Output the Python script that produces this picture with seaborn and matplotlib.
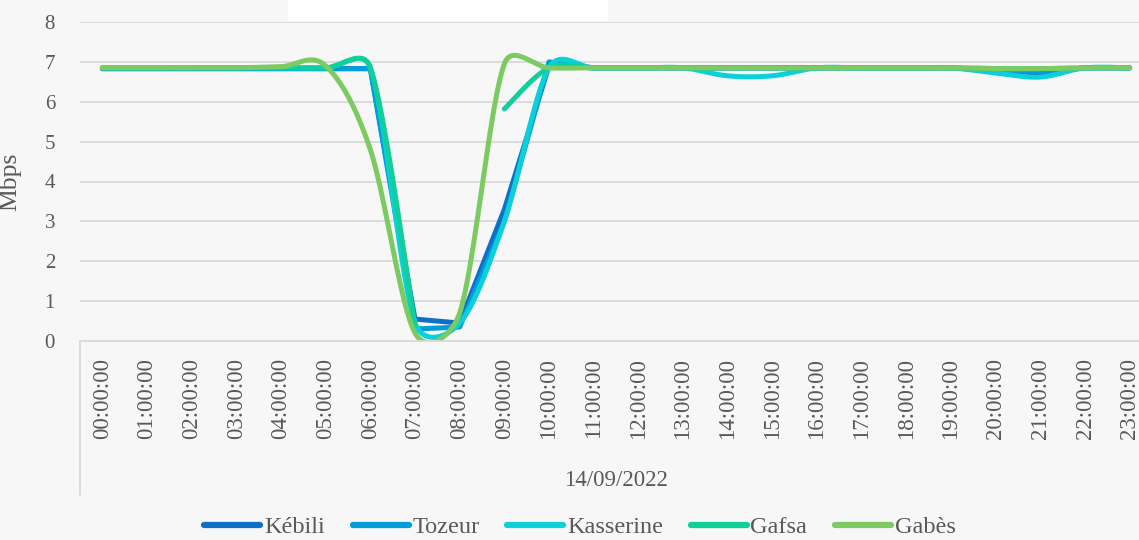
import numpy as np
import pandas as pd
import seaborn as sns
import matplotlib.pyplot as plt
from matplotlib.patches import Rectangle
from matplotlib.lines import Line2D

# --- data (hourly throughput, Mbps) ---
hours = ["00:00:00", "01:00:00", "02:00:00", "03:00:00", "04:00:00", "05:00:00",
         "06:00:00", "07:00:00", "08:00:00", "09:00:00", "10:00:00", "11:00:00",
         "12:00:00", "13:00:00", "14:00:00", "15:00:00", "16:00:00", "17:00:00",
         "18:00:00", "19:00:00", "20:00:00", "21:00:00", "22:00:00", "23:00:00"]
kebili = [6.83, 6.83, 6.83, 6.83, 6.83, 6.83, 6.83, 0.55, 0.45, 3.30, 6.90, 6.85,
          6.85, 6.85, 6.85, 6.85, 6.85, 6.85, 6.85, 6.85, 6.78, 6.72, 6.85, 6.85]
tozeur = [6.83, 6.83, 6.83, 6.83, 6.83, 6.83, 6.83, 0.30, 0.35, 3.00, 7.00, 6.85,
          6.85, 6.85, 6.85, 6.85, 6.85, 6.85, 6.85, 6.85, 6.80, 6.75, 6.85, 6.85]
kasserine = [6.85, 6.85, 6.85, 6.85, 6.85, 6.85, 6.85, 0.45, 0.45, 3.00, 6.85, 6.85,
             6.85, 6.85, 6.65, 6.65, 6.85, 6.85, 6.85, 6.85, 6.72, 6.62, 6.85, 6.85]
gafsa = [6.85, 6.85, 6.85, 6.85, 6.85, 6.85, 6.86, 0.40, np.nan, 5.82, 6.85, 6.85,
         6.85, 6.85, 6.85, 6.85, 6.85, 6.85, 6.85, 6.85, 6.83, 6.83, 6.85, 6.85]
gabes = [6.85, 6.85, 6.85, 6.85, 6.88, 6.90, 4.80, 0.20, 0.70, 6.95, 6.85, 6.85,
         6.85, 6.85, 6.85, 6.85, 6.85, 6.85, 6.85, 6.85, 6.83, 6.83, 6.85, 6.85]
date_label = "14/09/2022"

series = {"Kébili": kebili, "Tozeur": tozeur, "Kasserine": kasserine,
          "Gafsa": gafsa, "Gabès": gabes}
colors = {"Kébili": "#0F6FC6", "Tozeur": "#009DD9", "Kasserine": "#0BD0D9",
          "Gafsa": "#10CF9B", "Gabès": "#7CCA62"}
smoothed = {"Kébili": False, "Tozeur": False, "Kasserine": True,
            "Gafsa": True, "Gabès": True}

sns.set_theme(style="white")
plt.rcParams['font.family'] = ['Liberation Serif', 'DejaVu Serif']
txt = "#595959"
grid = "#D9D9D9"

W, H = 1139, 540
fig = plt.figure(figsize=(W / 100, H / 100), dpi=100)
fig.patch.set_facecolor("#F7F7F7")
fig.patches.append(Rectangle((288 / W, 1 - 21 / H), 320 / W, 21 / H,
                             transform=fig.transFigure, facecolor="white",
                             edgecolor="none", zorder=0))

ax = fig.add_axes([80 / W, 1 - 341 / H, (1152 - 80) / W, 319 / H])
ax.set_facecolor("none")
ax.set_xlim(-0.5, 23.5)
ax.set_ylim(0, 8)


def excel_smooth(xs, ys, n=24):
    # Bezier smoothing in pixel space; arms = 1/6 of neighbour chord,
    # capped at half the segment length (keeps overshoot small)
    pts = ax.transData.transform(np.column_stack([xs, ys]))
    out = [pts[0]]
    m = len(pts)
    for i in range(m - 1):
        p0 = pts[i - 1] if i > 0 else pts[i]
        p1, p2 = pts[i], pts[i + 1]
        p3 = pts[i + 2] if i + 2 < m else pts[i + 1]
        d12 = np.hypot(*(p2 - p1))
        a1 = (p2 - p0) / 6
        a2 = (p3 - p1) / 6
        for a in (a1, a2):
            la = np.hypot(*a)
            if la > d12 / 2:
                a *= (d12 / 2) / la
        c1, c2 = p1 + a1, p2 - a2
        t = np.linspace(0, 1, n)[1:, None]
        out.extend((1 - t) ** 3 * p1 + 3 * (1 - t) ** 2 * t * c1
                   + 3 * (1 - t) * t ** 2 * c2 + t ** 3 * p2)
    return ax.transData.inverted().transform(np.array(out))


x_idx = np.arange(len(hours))
for name, vals in series.items():
    vals = np.asarray(vals, dtype=float)
    ok = ~np.isnan(vals)
    # split into runs of valid points (gaps stay gaps)
    runs, cur = [], []
    for i in range(len(vals)):
        if ok[i]:
            cur.append(i)
        elif cur:
            runs.append(cur)
            cur = []
    if cur:
        runs.append(cur)
    for r in runs:
        xs, ys = x_idx[r], vals[r]
        if smoothed[name] and len(r) > 2:
            curve = excel_smooth(xs, ys)
        else:
            curve = np.column_stack([xs, ys])
        df = pd.DataFrame({"x": curve[:, 0], "y": curve[:, 1]})
        sns.lineplot(data=df, x="x", y="y", sort=False, estimator=None, ax=ax,
                     color=colors[name], lw=3.6, legend=False,
                     solid_capstyle="round", solid_joinstyle="round")

# grid / axes
ax.set_yticks(range(0, 9))
ax.yaxis.grid(True, color=grid, lw=1.3)
ax.set_axisbelow(True)
for s in ["top", "right", "left"]:
    ax.spines[s].set_visible(False)
ax.spines["bottom"].set_color(grid)
ax.spines["bottom"].set_linewidth(1.3)
ax.set_xticks(x_idx)
ax.set_xticklabels(hours, rotation=90, va="top", ha="center")
ax.tick_params(axis="x", length=0, pad=12, labelsize=16.5, labelcolor=txt)
ax.tick_params(axis="y", length=0, pad=18, labelsize=15, labelcolor=txt)
ax.set_xlabel("")
ax.set_ylabel("Mbps", fontsize=18.5, color=txt)
ax.yaxis.set_label_coords(-(80 - 21) / 1072, 0.5)

# category box line on the left and the date group label
ax.plot([0, 0], [0, -(495 - 341) / 319], transform=ax.transAxes, clip_on=False,
        color=grid, lw=1.3)
ax.text(11.5, -(480 - 341) / 319, date_label, transform=ax.get_xaxis_transform(),
        ha="center", va="center", fontsize=16.5, color=txt)

handles = [Line2D([], [], color=colors[n], lw=4.5, solid_capstyle="round")
           for n in series]
fig.legend(handles, list(series), loc="center", bbox_to_anchor=(580 / W, 1 - 527 / H),
           ncol=5, frameon=False, fontsize=17.5, handlelength=2.3, handletextpad=0.15,
           columnspacing=1.15, labelcolor=txt, borderpad=0, borderaxespad=0)

fig.savefig("out.png", dpi=100, facecolor=fig.get_facecolor())
